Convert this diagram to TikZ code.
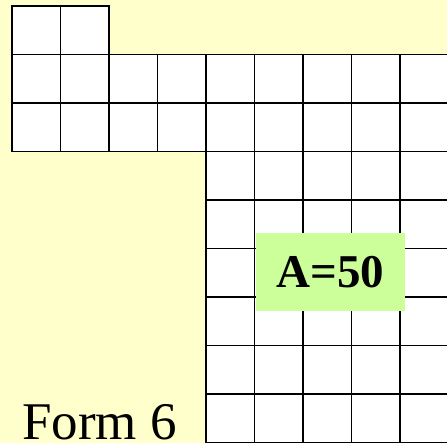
\documentclass[tikz,border=0pt]{standalone}
\usepackage{fontspec}
\setmainfont{Liberation Serif}
\definecolor{bg}{HTML}{FFFFCC}
\definecolor{lime}{HTML}{CCFF99}
\begin{document}
\begin{tikzpicture}[x=1pt,y=-1pt,
  cellfill/.style={fill=white},
  cellline/.style={draw=black, line width=1.3pt},
  areabox/.style={fill=lime, minimum width=149pt, minimum height=78pt, inner sep=0pt,
    font=\bfseries\fontsize{47}{47}\selectfont},
  formlabel/.style={anchor=base west, inner sep=0pt, font=\fontsize{53}{53}\selectfont}]
\useasboundingbox (0,0) rectangle (447,443);
\clip (0,0) rectangle (447,443);
\fill[bg] (0,0) rectangle (447,443);
\def\s{48.5}
% fills
\foreach \c in {0,1} {\path[cellfill] ({12+\c*\s},6) rectangle ++(\s,\s);}
\foreach \r in {1,2} {\foreach \c in {0,...,8} {\path[cellfill] ({12+\c*\s},{6+\r*\s}) rectangle ++(\s,\s);}}
\foreach \r in {3,...,8} {\foreach \c in {4,...,8} {\path[cellfill] ({12+\c*\s},{6+\r*\s}) rectangle ++(\s,\s);}}
% lines
\foreach \c in {0,1} {\path[cellline] ({12+\c*\s},6) rectangle ++(\s,\s);}
\foreach \r in {1,2} {\foreach \c in {0,...,8} {\path[cellline] ({12+\c*\s},{6+\r*\s}) rectangle ++(\s,\s);}}
\foreach \r in {3,...,8} {\foreach \c in {4,...,8} {\path[cellline] ({12+\c*\s},{6+\r*\s}) rectangle ++(\s,\s);}}
\node[areabox] (area) at (330.5,272) {A=50};
\node[formlabel] (form) at (22,439) {Form 6};
\end{tikzpicture}
\end{document}
